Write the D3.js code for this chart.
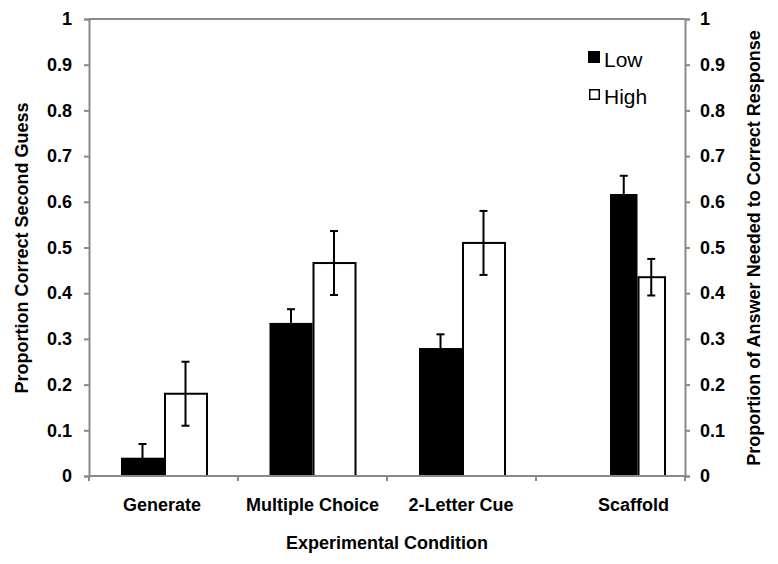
<!DOCTYPE html>
<html><head><meta charset="utf-8">
<script src="https://cdn.jsdelivr.net/npm/d3@7"></script>
<style>
body{margin:0;background:#fff;}
text{font-family:"Liberation Sans",Arial,sans-serif;}
</style></head>
<body><svg id="c" width="778" height="564"></svg>
<script>
const categories = ["Generate","Multiple Choice","2-Letter Cue","Scaffold"];
const seriesNames = ["Low","High"];
const lowValues = [0.04,0.335,0.28,0.617];
const highValues = [0.18,0.466,0.51,0.435];
const lowErrors = [0.03,0.03,0.03,0.04];
const highErrors = [0.07,0.07,0.07,0.04];
const yTicks = [0,0.1,0.2,0.3,0.4,0.5,0.6,0.7,0.8,0.9,1];
const yTickLabels = ["0","0.1","0.2","0.3","0.4","0.5","0.6","0.7","0.8","0.9","1"];

const svg = d3.select("#c");
const m = {l:89, r:685, t:19, b:476};
const axisColor = "#898989";
const FS = 18;
const x = d3.scaleBand().domain(categories).range([m.l, m.r]);
const y = d3.scaleLinear().domain([0,1]).range([m.b, m.t]);
// per-group layout tweaks (visual only)
const groupStyle = {
  "Generate":{bw:43, shift:0.5, lab:-2},
  "Multiple Choice":{bw:43, shift:0, lab:0},
  "2-Letter Cue":{bw:43, shift:0.5, lab:-1},
  "Scaffold":{bw:27.5, shift:27, lab:-4}
};
const gc = c => x(c) + x.bandwidth()/2 + groupStyle[c].shift;

// frame top line
svg.append("line").attr("x1",m.l).attr("x2",m.r).attr("y1",m.t).attr("y2",m.t)
  .attr("stroke",axisColor).attr("stroke-width",2);

// bars
const data = [];
categories.forEach((c,i)=>{
  data.push({c, s:0, v:lowValues[i], e:lowErrors[i]});
  data.push({c, s:1, v:highValues[i], e:highErrors[i]});
});
const bx = d => gc(d.c) + (d.s===0 ? -groupStyle[d.c].bw : 0);
svg.selectAll("rect.bar").data(data).enter().append("rect")
  .attr("x", d => bx(d) + (d.s===1?1:0))
  .attr("y", d => y(d.v))
  .attr("width", d => groupStyle[d.c].bw - (d.s===1?1:0))
  .attr("height", d => y(0)-y(d.v))
  .attr("fill", d => d.s===0 ? "#000" : "#fff")
  .attr("stroke", d => d.s===0 ? "none" : "#000")
  .attr("stroke-width", 2);

// error bars
const eg = svg.selectAll("g.err").data(data).enter().append("g")
  .attr("stroke","#000").attr("stroke-width",2);
const ex = d => bx(d)+groupStyle[d.c].bw/2;
eg.append("line").attr("x1", ex).attr("x2", ex)
  .attr("y1", d=>y(d.v+d.e)).attr("y2", d=>y(d.v-d.e));
eg.append("line").attr("x1", d=>ex(d)-4).attr("x2", d=>ex(d)+4)
  .attr("y1", d=>y(d.v+d.e)).attr("y2", d=>y(d.v+d.e));
eg.append("line").attr("x1", d=>ex(d)-4).attr("x2", d=>ex(d)+4)
  .attr("y1", d=>y(d.v-d.e)).attr("y2", d=>y(d.v-d.e));

// axes
function styleAxis(g){
  g.selectAll("path,line").attr("stroke",axisColor).attr("stroke-width",2);
  g.selectAll("text").attr("font-size",FS).attr("font-weight","bold").attr("fill","#000")
    .attr("font-family","'Liberation Sans',Arial,sans-serif");
}
const yl = svg.append("g").attr("transform",`translate(${m.l},0)`)
  .call(d3.axisLeft(y).tickValues(yTicks).tickFormat((d,i)=>yTickLabels[i]).tickSizeOuter(0).tickSize(5).tickPadding(12));
styleAxis(yl);
const yr = svg.append("g").attr("transform",`translate(${m.r},0)`)
  .call(d3.axisRight(y).tickValues(yTicks).tickFormat((d,i)=>yTickLabels[i]).tickSizeOuter(0).tickSize(5).tickPadding(10));
styleAxis(yr);
const xa = svg.append("g").attr("transform",`translate(0,${m.b})`)
  .call(d3.axisBottom(x).tickSizeOuter(0).tickSize(0).tickFormat(""));
styleAxis(xa);
xa.select("path.domain").attr("d",`M${m.l},0H${m.r}`);
// x tick marks at band boundaries
const bounds = categories.map(c=>x(c)).concat([m.r]);
xa.selectAll("line.bt").data(bounds).enter().append("line").attr("class","bt")
  .attr("x1",d=>d).attr("x2",d=>d).attr("y1",0).attr("y2",5)
  .attr("stroke",axisColor).attr("stroke-width",2);
// category labels
svg.selectAll("text.cat").data(categories).enter().append("text")
  .attr("x", c => gc(c) + groupStyle[c].lab).attr("y", 511)
  .attr("text-anchor","middle").attr("font-size",FS).attr("font-weight","bold").text(c=>c);

// titles
svg.append("text").attr("x",387).attr("y",549).attr("text-anchor","middle")
  .attr("font-size",FS).attr("font-weight","bold").text("Experimental Condition");
svg.append("text").attr("transform","translate(28,248) rotate(-90)").attr("text-anchor","middle")
  .attr("font-size",FS).attr("font-weight","bold").text("Proportion Correct Second Guess");
svg.append("text").attr("transform","translate(760,248) rotate(-90)").attr("text-anchor","middle")
  .attr("font-size",FS).attr("font-weight","bold").text("Proportion of Answer Needed to Correct Response");

// legend
const lg = svg.append("g");
seriesNames.forEach((s,i)=>{
  if(i===0){
    lg.append("rect").attr("x",588).attr("y",51).attr("width",12).attr("height",12).attr("fill","#000");
  } else {
    lg.append("rect").attr("x",589.75).attr("y",89.75).attr("width",9.5).attr("height",9.5)
      .attr("fill","#fff").attr("stroke","#000").attr("stroke-width",1.5);
  }
  lg.append("text").attr("x",604).attr("y",i===0?67:104).attr("font-size",21).text(s);
});
</script></body></html>
